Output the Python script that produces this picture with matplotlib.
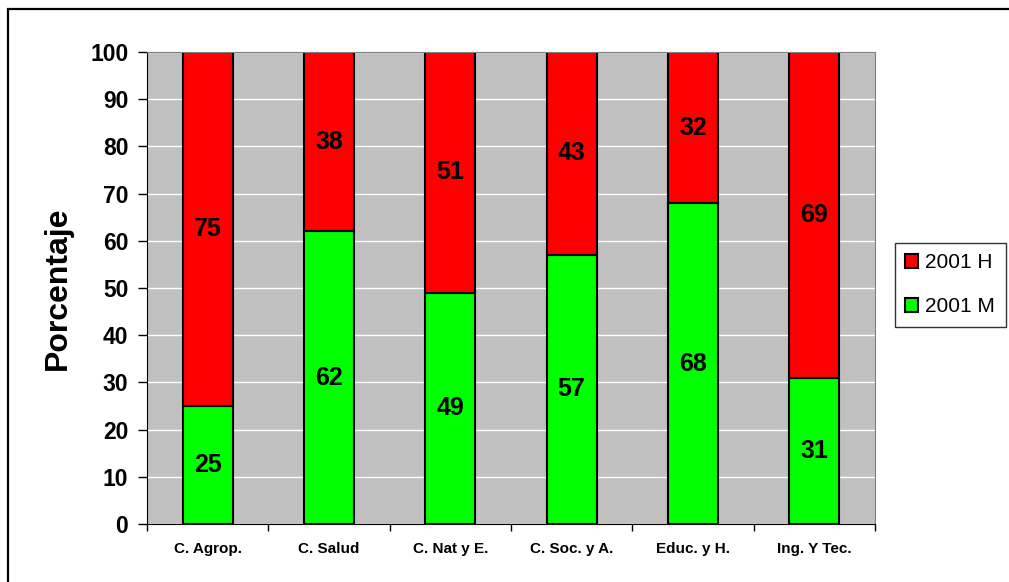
import numpy as np
import matplotlib
matplotlib.use("Agg")
import matplotlib.pyplot as plt
from matplotlib.patches import Rectangle

plt.rcParams['font.family'] = ['Liberation Sans', 'DejaVu Sans']

categorias = ["C. Agrop.", "C. Salud", "C. Nat y E.", "C. Soc. y A.", "Educ. y H.", "Ing. Y Tec."]
mujeres = [25, 62, 49, 57, 68, 31]
hombres = [75, 38, 51, 43, 32, 69]

fig = plt.figure(figsize=(10.09, 5.82), dpi=100)
ax = fig.add_axes([147/1009, 58/582, 728/1009, 472/582])
ax.set_facecolor('#C0C0C0')

x = np.arange(len(categorias))
ax.set_axisbelow(True)
ax.yaxis.grid(True, color='white', linewidth=1)
bm = ax.bar(x, mujeres, width=0.41, color='#00FF00', edgecolor='black', linewidth=1.5, label='2001 M')
bh = ax.bar(x, hombres, width=0.41, bottom=mujeres, color='#FF0000', edgecolor='black', linewidth=1.5, label='2001 H')

for i in range(len(x)):
    ax.text(x[i], mujeres[i] / 2, str(mujeres[i]), ha='center', va='center',
            fontsize=18, fontweight='bold')
    ax.text(x[i], mujeres[i] + hombres[i] / 2, str(hombres[i]), ha='center', va='center',
            fontsize=18, fontweight='bold')

ax.set_xlim(-0.5, len(x) - 0.5)
ax.set_ylim(0, 100)
ax.set_yticks(np.arange(0, 101, 10))
ax.set_yticklabels([str(v) for v in range(0, 101, 10)], fontsize=16.5, fontweight='bold')
ax.set_xticks(x)
ax.set_xticklabels(categorias, fontsize=11, fontweight='bold')
ax.tick_params(axis='x', length=0, pad=13)
ax.set_xticks(np.arange(-0.5, len(x), 1), minor=True)
ax.tick_params(axis='x', which='minor', length=5, width=1)
ax.tick_params(axis='y', length=6.5, width=1, direction='out', pad=7)
ax.set_ylabel('Porcentaje', fontsize=23, fontweight='bold', labelpad=12)

ax.spines['top'].set_color('#808080')
ax.spines['right'].set_color('#808080')
ax.spines['left'].set_color('black')
ax.spines['bottom'].set_color('black')

leg = ax.legend(handles=[bh, bm], loc='center left', bbox_to_anchor=(1.027, 0.507),
                fontsize=15, frameon=True, fancybox=False, edgecolor='black',
                handlelength=0.62, handleheight=0.62, handletextpad=0.35, borderpad=0.5,
                labelspacing=1.2, borderaxespad=0)
leg.get_frame().set_linewidth(1)

# marco de la figura (recortado a la derecha y abajo)
fig.patches.append(Rectangle((8/1009, -0.5), 2.0, (573.5/582) + 0.5, transform=fig.transFigure,
                             fill=False, edgecolor='black', linewidth=1.6))

plt.savefig('out.png', dpi=100)
